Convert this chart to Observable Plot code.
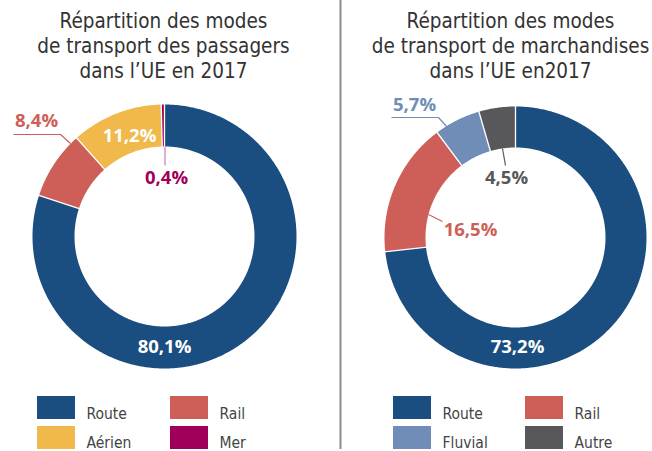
<!DOCTYPE html>
<html><head><meta charset="utf-8">
<script src="https://cdn.jsdelivr.net/npm/d3@7"></script>
<script src="https://cdn.jsdelivr.net/npm/@observablehq/plot@0.6"></script>
<style>body{margin:0;background:#fff}</style>
</head><body><div id="chart"></div>
<script>
// ---- data ----
const passengerTitle = ["Répartition des modes", "de transport des passagers", "dans l’UE en 2017"];
const passengerModes = ["Route", "Rail", "Aérien", "Mer"];
const passengerShares = [80.1, 8.4, 11.2, 0.4];
const passengerLabels = ["80,1%", "8,4%", "11,2%", "0,4%"];

const freightTitle = ["Répartition des modes", "de transport de marchandises", "dans l’UE en2017"];
const freightModes = ["Route", "Rail", "Fluvial", "Autre"];
const freightShares = [73.2, 16.5, 5.7, 4.5];
const freightLabels = ["73,2%", "16,5%", "5,7%", "4,5%"];

const modeDomain = ["Route", "Rail", "Aérien", "Mer", "Fluvial", "Autre"];
const modeColors = ["#1a4e80", "#cd5f58", "#f1b94c", "#a1005a", "#6f8db6", "#58585b"];

// ---- layout ----
const W = 652, H = 451;
const font = "'Liberation Sans Narrow', 'DejaVu Sans Condensed', sans-serif";
const labelFont = "'Open Sans', sans-serif";
const panels = [
  {modes: passengerModes, shares: passengerShares, labels: passengerLabels, title: passengerTitle,
   cx: 164, cy: 236, ro: 132, ri: 90, titleX: 163,
   labelPos: [{x:164,y:347,white:true},{x:36,y:121,leader:[[13,134],[60,134],[70,143]]},{x:129,y:136,white:true},{x:166,y:178,leader:[[164.5,146],[164.5,165]],leaderColor:"#d078a8"}],
   legendX: [37, 170]},
  {modes: freightModes, shares: freightShares, labels: freightLabels, title: freightTitle,
   cx: 515, cy: 237, ro: 131, ri: 90, titleX: 510,
   labelPos: [{x:517,y:347,white:true},{x:470,y:230,leader:[[428,214],[442,221]]},{x:414,y:105,leader:[[391,117],[438,117],[447,127]]},{x:506,y:178,leader:[[502,148],[505,165]]}],
   legendX: [393, 525]}
];

const color = m => modeColors[modeDomain.indexOf(m)];
const pt = (p, r, deg) => { const a = deg * Math.PI / 180; return [p.cx + r * Math.sin(a), p.cy - r * Math.cos(a)]; };

const slices = [], seps = [], labels = [], leaders = [], titles = [], swatches = [], legendText = [];
panels.forEach((p, pi) => {
  const total = d3.sum(p.shares);
  let acc = 0;
  p.modes.forEach((m, i) => {
    const a0 = acc / total * 360, a1 = (acc + p.shares[i]) / total * 360;
    acc += p.shares[i];
    const id = pi + "-" + i;
    const n = Math.max(2, Math.ceil((a1 - a0) / 0.5));
    for (let k = 0; k <= n; k++) { const [x, y] = pt(p, p.ro, a0 + (a1 - a0) * k / n); slices.push({id, mode: m, x, y}); }
    for (let k = n; k >= 0; k--) { const [x, y] = pt(p, p.ri, a0 + (a1 - a0) * k / n); slices.push({id, mode: m, x, y}); }
    const [x1, y1] = pt(p, p.ri - 1, a0), [x2, y2] = pt(p, p.ro + 1, a0);
    seps.push({x1, y1, x2, y2});
    const lp = p.labelPos[i];
    labels.push({x: lp.x, y: lp.y, text: p.labels[i], fill: lp.white ? "#ffffff" : color(m)});
    if (lp.leader) lp.leader.forEach(([x, y]) => leaders.push({id, x, y, c: lp.leaderColor || color(m)}));
  });
  p.title.forEach((t, j) => titles.push({x: p.titleX, y: 27 + j * 25, text: t}));
  p.modes.forEach((m, i) => {
    const c = [0, 1, 0, 1][i], r = [0, 0, 1, 1][i];
    const x1 = p.legendX[c], y1 = 396 + r * 30;
    swatches.push({x1, x2: x1 + 38, y1, y2: y1 + 23, mode: m});
    legendText.push({x: x1 + 49, y: 418 + r * 29, text: m});
  });
});

const chart = Plot.plot({
  width: W, height: H, margin: 0,
  x: {domain: [0, W], range: [0, W], axis: null},
  y: {domain: [0, H], range: [0, H], axis: null},
  color: {domain: modeDomain, range: modeColors},
  style: {fontFamily: font, background: "#fff"},
  marks: [
    Plot.line(slices, {x: "x", y: "y", z: "id", fill: "mode", stroke: "none", curve: "linear-closed"}),
    Plot.link(seps, {x1: "x1", y1: "y1", x2: "x2", y2: "y2", stroke: "#fff", strokeWidth: 1.3}),
    Plot.line(leaders, {x: "x", y: "y", z: "id", stroke: "c", strokeWidth: 1.2, strokeLinecap: "butt"}),
    Plot.text(labels, {x: "x", y: "y", text: "text", fill: "fill", fontFamily: labelFont, fontWeight: 700, fontSize: 18.5, textAnchor: "middle", lineAnchor: "middle"}),
    Plot.text(titles, {x: "x", y: "y", text: "text", fill: "#333", fontSize: 20.5, textAnchor: "middle", lineAnchor: "bottom"}),
    Plot.rect(swatches, {x1: "x1", x2: "x2", y1: "y1", y2: "y2", fill: "mode"}),
    Plot.text(legendText, {x: "x", y: "y", text: "text", fill: "#444", fontSize: 15.5, textAnchor: "start", lineAnchor: "bottom"}),
    Plot.ruleX([340], {y1: 0, y2: 449, stroke: "#8c8c8c", strokeWidth: 2})
  ]
});
document.getElementById("chart").append(chart);
</script>
</body></html>
